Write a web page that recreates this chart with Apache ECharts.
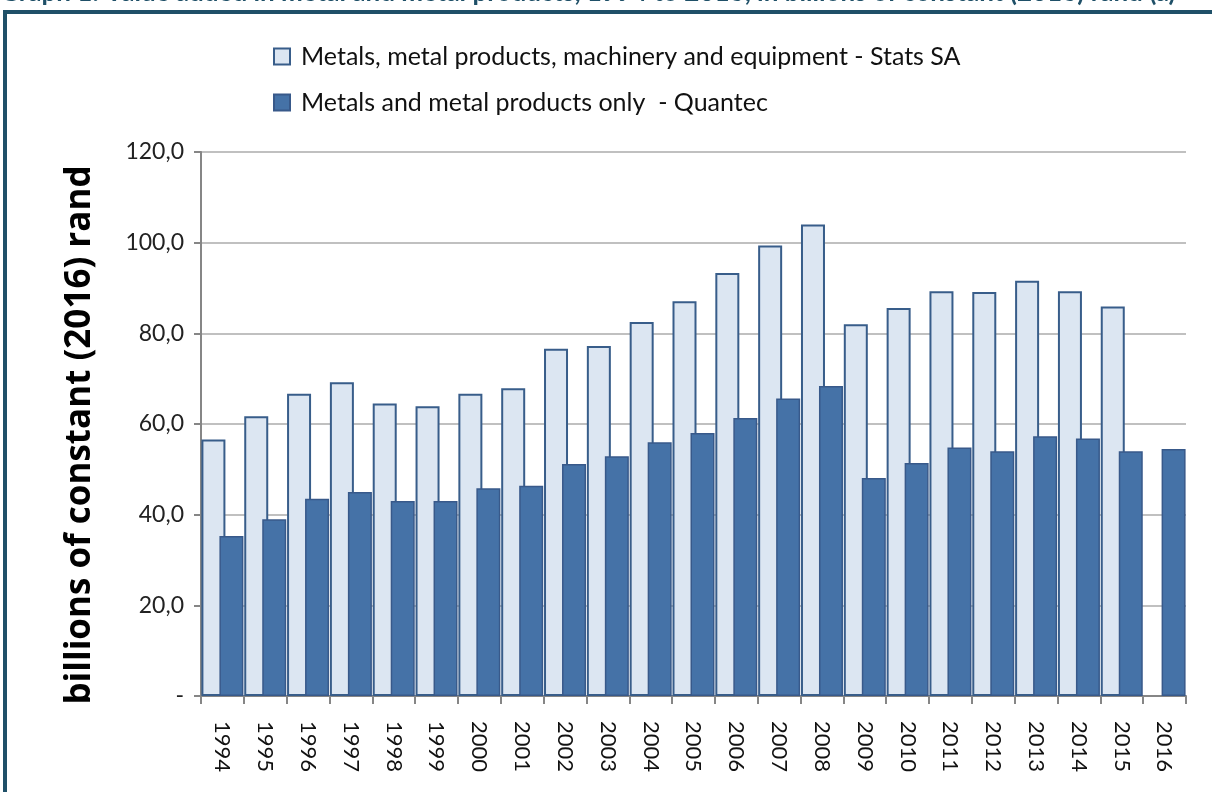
<!DOCTYPE html>
<html>
<head>
<meta charset="utf-8">
<script src="https://cdn.jsdelivr.net/npm/echarts@6/dist/echarts.min.js"></script>
<style>
  html, body {margin: 0; padding: 0; background: #fff;}
  #chart {width: 1212px; height: 792px;}
</style>
</head>
<body>
<div id="chart"></div>
<script>
// 年份
var years = ['1994', '1995', '1996', '1997', '1998', '1999', '2000', '2001', '2002', '2003', '2004', '2005',
  '2006', '2007', '2008', '2009', '2010', '2011', '2012', '2013', '2014', '2015', '2016'];
// Stats SA: metals, metal products, machinery and equipment
var statsSA = [56.6, 61.7, 66.7, 69.2, 64.5, 63.9, 66.7, 67.9, 76.6, 77.2, 82.5, 87.1,
  93.3, 99.4, 104.0, 82.0, 85.6, 89.3, 89.1, 91.6, 89.3, 85.9, null];
// Quantec: metals and metal products only
var quantec = [35.3, 39.0, 43.5, 45.0, 43.0, 43.0, 45.8, 46.4, 51.2, 52.9, 56.0, 58.0,
  61.3, 65.6, 68.4, 48.1, 51.4, 54.8, 54.0, 57.3, 56.8, 54.0, 54.5];
var yTickLabels = ['-', '20,0', '40,0', '60,0', '80,0', '100,0', '120,0'];

var seriesNames = ['Metals, metal products, machinery and equipment - Stats SA',
  'Metals and metal products only  - Quantec'];
var titleText = 'Graph 1: Value added in metal and metal products, 1994 to 2016, in billions of constant (2016) rand (a)';

var font = 'Lato, "Open Sans", sans-serif';
var chart = echarts.init(document.getElementById('chart'));

var option = {
  animation: false,
  backgroundColor: '#fff',
  textStyle: {fontFamily: font},
  graphic: [
    {
      type: 'text',
      left: 0,
      top: -20,
      style: {text: titleText, font: 'bold 26px ' + font, fill: '#1f5068'}
    },
    {
      type: 'rect',
      shape: {x: 5, y: 12, width: 1400, height: 1000},
      style: {fill: 'none', stroke: '#1f5068', lineWidth: 4}
    }
  ],
  legend: {
    orient: 'vertical',
    left: 268,
    top: 39,
    itemWidth: 16,
    itemHeight: 16,
    itemGap: 21,
    icon: 'rect',
    textStyle: {fontSize: 25, color: '#111', fontFamily: font, padding: [0, 0, 0, 6]},
    data: seriesNames
  },
  grid: {left: 201, right: 26, top: 152, bottom: 96, containLabel: false},
  xAxis: {
    type: 'category',
    data: years,
    boundaryGap: true,
    axisLine: {lineStyle: {color: '#868686', width: 2}},
    axisTick: {show: true, length: 8, lineStyle: {color: '#868686', width: 2}},
    axisLabel: {rotate: -90, fontSize: 22, color: '#111', margin: 25, fontFamily: font, interval: 0}
  },
  yAxis: {
    type: 'value',
    min: 0,
    max: 120,
    interval: 20,
    name: 'billions of constant (2016) rand',
    nameLocation: 'middle',
    nameGap: 103,
    nameTextStyle: {fontSize: 35, fontWeight: 'bold', color: '#000', fontFamily: '"Open Sans", Lato, sans-serif', padding: [0, 22, 0, 0]},
    axisLine: {show: true, lineStyle: {color: '#868686', width: 2}},
    axisTick: {show: true, length: 7, lineStyle: {color: '#868686', width: 2}},
    axisLabel: {
      fontSize: 23, color: '#222', margin: 17, fontFamily: font,
      formatter: function (v) { return yTickLabels[Math.round(v / 20)]; }
    },
    splitLine: {lineStyle: {color: '#c0c0c0', width: 2}}
  },
  series: [
    {
      name: seriesNames[0],
      type: 'bar',
      data: statsSA,
      barWidth: 24,
      barGap: '-25%',
      itemStyle: {color: '#dce6f2', borderColor: '#385d8a', borderWidth: 2}
    },
    {
      name: seriesNames[1],
      type: 'bar',
      data: quantec,
      barWidth: 24,
      itemStyle: {color: '#4572a7', borderColor: '#38598a', borderWidth: 1.5}
    }
  ]
};
chart.setOption(option);
</script>
</body>
</html>
